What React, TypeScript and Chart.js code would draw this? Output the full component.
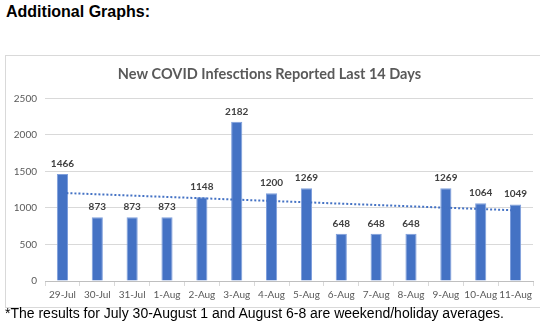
import React, { useEffect, useRef } from "react";
import { Chart, registerables } from "chart.js";

Chart.register(...registerables);

const categories = [
  "29-Jul", "30-Jul", "31-Jul", "1-Aug", "2-Aug", "3-Aug", "4-Aug",
  "5-Aug", "6-Aug", "7-Aug", "8-Aug", "9-Aug", "10-Aug", "11-Aug",
];
const infections = [1466, 873, 873, 873, 1148, 2182, 1200, 1269, 648, 648, 648, 1269, 1064, 1049];
// linear trendline end points
const trendline = [1206, null, null, null, null, null, null, null, null, null, null, null, null, 967];
const yMax = 2500;
const yStep = 500;

const chartTitle = "New COVID Infesctions Reported Last 14 Days";
const heading = "Additional Graphs:";
const footnote = "*The results for July 30-August 1 and August 6-8 are weekend/holiday averages.";

const FONT = "Lato, 'Open Sans', sans-serif";

const valueLabels = {
  id: "valueLabels",
  afterDatasetsDraw(chart: any) {
    const meta = chart.getDatasetMeta(0);
    const ctx = chart.ctx;
    ctx.save();
    ctx.font = `bold 10px ${FONT}`;
    ctx.fillStyle = "#404040";
    ctx.textAlign = "center";
    ctx.textBaseline = "alphabetic";
    meta.data.forEach((bar: any, i: number) => {
      ctx.fillText(String(infections[i]), bar.x, bar.y - 7);
    });
    ctx.restore();
  },
};

export default function App() {
  const canvasRef = useRef<HTMLCanvasElement | null>(null);

  useEffect(() => {
    const canvas = canvasRef.current;
    if (!canvas) return;
    const chart = new Chart(canvas, {
      type: "bar",
      data: {
        labels: categories,
        datasets: [
          {
            type: "bar",
            data: infections,
            backgroundColor: "#4472C4",
            borderColor: "#7f9fdc",
            borderWidth: 1,
            categoryPercentage: 1,
            barPercentage: 0.32,
            order: 2,
          },
          {
            type: "line",
            data: trendline as any,
            borderColor: "#4472C4",
            borderWidth: 2,
            borderDash: [2, 2],
            pointRadius: 0,
            spanGaps: true,
            fill: false,
            order: 1,
          },
        ],
      },
      options: {
        responsive: false,
        animation: false,
        layout: { padding: { left: 0, right: 13, top: 0, bottom: 0 } },
        plugins: {
          legend: { display: false },
          tooltip: { enabled: false },
          title: {
            display: true,
            text: chartTitle,
            color: "#595959",
            font: { family: FONT, size: 14.5, weight: "bold" },
            padding: { top: 10, bottom: 15 },
          },
        },
        scales: {
          x: {
            offset: true,
            grid: {
              offset: true,
              drawOnChartArea: false,
              drawTicks: true,
              tickLength: 5,
              color: "#d9d9d9",
            },
            border: { display: true, color: "#bfbfbf" },
            ticks: {
              color: "#595959",
              font: { family: FONT, size: 10 },
              maxRotation: 0,
              autoSkip: false,
              padding: 3,
            },
            afterFit: (s: any) => {
              s.height = 26;
            },
          },
          y: {
            min: 0,
            max: yMax,
            ticks: {
              stepSize: yStep,
              color: "#595959",
              font: { family: FONT, size: 10 },
              padding: 8,
              callback: (v: any) => String(v),
            },
            grid: { color: "#d9d9d9", drawTicks: false },
            border: { display: false },
            afterFit: (s: any) => {
              s.width = 39;
            },
          },
        },
      },
      plugins: [valueLabels],
    });
    return () => chart.destroy();
  }, []);

  return (
    <div
      style={{
        position: "fixed",
        left: 0,
        top: 0,
        width: 540,
        height: 327,
        background: "#fff",
        overflow: "hidden",
      }}
    >
      <div
        style={{
          position: "absolute",
          left: 6,
          top: 3,
          fontFamily: "'Liberation Sans', Arial, sans-serif",
          fontWeight: "bold",
          fontSize: 16,
          color: "#000",
          whiteSpace: "nowrap",
        }}
      >
        {heading}
      </div>
      <div
        style={{
          position: "absolute",
          left: 5,
          top: 55,
          width: 546,
          height: 251,
          borderLeft: "1px solid #d9d9d9",
          borderTop: "1px solid #d9d9d9",
          borderBottom: "1px solid #d9d9d9",
        }}
      >
        <canvas ref={canvasRef} width={540} height={251} style={{ display: "block", width: 540, height: 251 }} />
      </div>
      <div
        style={{
          position: "absolute",
          left: 5,
          top: 305,
          fontFamily: "'Liberation Sans', Arial, sans-serif",
          fontSize: 14,
          color: "#000",
          whiteSpace: "nowrap",
        }}
      >
        {footnote}
      </div>
    </div>
  );
}
